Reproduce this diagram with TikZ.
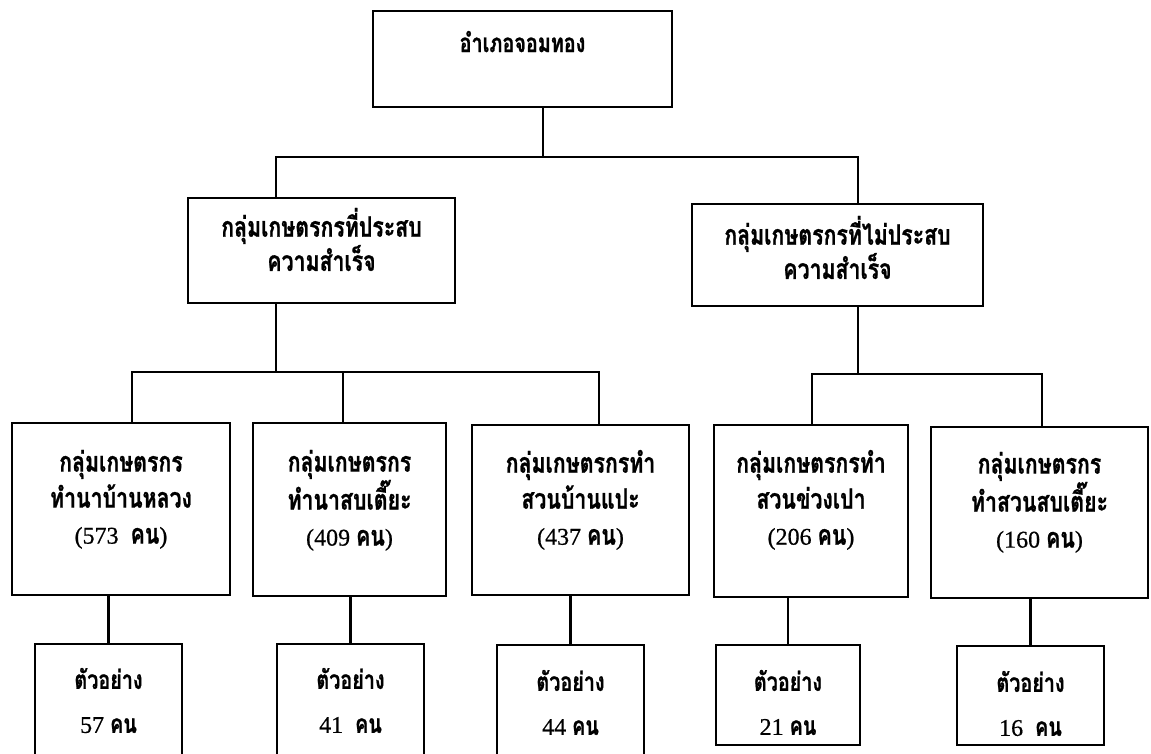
\documentclass[tikz,border=0pt]{standalone}
\usepackage{fontspec}
\usepackage{tikz}
\newfontfamily\thaifont[Script=Thai,FakeStretch=0.76,BoldFeatures={FakeBold=0.8}]{Loma}
\newfontfamily\numfont[FakeBold=0.6]{Liberation Serif}
\newcommand{\cnt}[1]{{\numfont\mdseries\fontsize{24}{33}\selectfont #1}}

\begin{document}
\begin{tikzpicture}[x=1pt,y=-1pt,
        box/.style={draw,line width=2.6pt,inner sep=0pt},
        txt/.style={anchor=north,align=center,inner sep=0pt,
            font=\thaifont\bfseries\fontsize{28}{36}\selectfont},
        mid/.style={txt,font=\thaifont\bfseries\fontsize{28}{31}\selectfont},
        smp/.style={txt,font=\thaifont\bfseries\fontsize{26}{44}\selectfont},
        link/.style={line width=2.6pt}]
        \clip (0,0) rectangle (1151,753);
        % top level
        \node[box,minimum width=299,minimum height=96,
            label={[txt,yshift=-21pt,font=\thaifont\bfseries\fontsize{26}{30}\selectfont]north:{อำเภอจอมทอง}}] (top) at (522.5,59) {};
        % middle level
        \node[box,minimum width=267,minimum height=105,
            label={[mid,yshift=-11pt]north:{กลุ่มเกษตรกรที่ประสบ\\ความสำเร็จ}}] (m1) at (321.5,250.5) {};
        \node[box,minimum width=291,minimum height=102,
            label={[mid,yshift=-13pt]north:{กลุ่มเกษตรกรที่ไม่ประสบ\\ความสำเร็จ}}] (m2) at (837.5,255) {};
        % groups
        \node[box,minimum width=218,minimum height=172,
            label={[txt,yshift=-28pt]north:{กลุ่มเกษตรกร\\ทำนาบ้านหลวง\\\cnt{(573~~}คน\cnt{)}}}] (b1) at (121,509) {};
        \node[box,minimum width=193,minimum height=173,
            label={[txt,yshift=-28pt]north:{กลุ่มเกษตรกร\\ทำนาสบเตี๊ยะ\\\cnt{(409 }คน\cnt{)}}}] (b2) at (349.5,509.5) {};
        \node[box,minimum width=217,minimum height=170,
            label={[txt,yshift=-26pt]north:{กลุ่มเกษตรกรทำ\\สวนบ้านแปะ\\\cnt{(437 }คน\cnt{)}}}] (b3) at (580.5,510) {};
        \node[box,minimum width=194,minimum height=172,
            label={[txt,yshift=-26pt]north:{กลุ่มเกษตรกรทำ\\สวนข่วงเปา\\\cnt{(206 }คน\cnt{)}}}] (b4) at (811,511) {};
        \node[box,minimum width=217,minimum height=171,
            label={[txt,yshift=-26pt]north:{กลุ่มเกษตรกร\\ทำสวนสบเตี๊ยะ\\\cnt{(160 }คน\cnt{)}}}] (b5) at (1039.5,512.5) {};
        % samples
        \node[box,minimum width=147,minimum height=126,
            label={[smp,yshift=-25pt]north:{ตัวอย่าง\\\cnt{57 }คน}}] (s1) at (108.5,707) {};
        \node[box,minimum width=147,minimum height=126,
            label={[smp,yshift=-25pt]north:{ตัวอย่าง\\\cnt{41~~}คน}}] (s2) at (350.5,707) {};
        \node[box,minimum width=147,minimum height=125,
            label={[smp,yshift=-26pt]north:{ตัวอย่าง\\\cnt{44 }คน}}] (s3) at (570.5,707.5) {};
        \node[box,minimum width=144,minimum height=100,
            label={[smp,yshift=-26pt]north:{ตัวอย่าง\\\cnt{21 }คน}}] (s4) at (788,695) {};
        \node[box,minimum width=147,minimum height=99,
            label={[smp,yshift=-26pt]north:{ตัวอย่าง\\\cnt{16~~}คน}}] (s5) at (1030.5,695.5) {};
        % junctions
        \coordinate (t0) at (543,157);
        \coordinate (t1) at (276,157);
        \coordinate (t2) at (858,157);
        \coordinate (l0) at (276,372);
        \coordinate (l1) at (132,372);
        \coordinate (l2) at (343,372);
        \coordinate (l3) at (599,372);
        \coordinate (r0) at (858,374);
        \coordinate (r1) at (812,374);
        \coordinate (r2) at (1042,374);
        % connectors
        \draw[link] (top.south -| t0) -- (t0);
        \draw[link] (m1.north -| t1) |- (t2) -- (m2.north -| t2);
        \draw[link] (m1.south -| l0) -- (l0);
        \draw[link] (b1.north -| l1) |- (l3) -- (b3.north -| l3);
        \draw[link] (l2) -- (b2.north -| l2);
        \draw[link] (m2.south -| r0) -- (r0);
        \draw[link] (b4.north -| r1) |- (r2) -- (b5.north -| r2);
        \draw[link] (s1.north |- b1.south) -- (s1.north);
        \draw[link] (s2.north |- b2.south) -- (s2.north);
        \draw[link] (s3.north |- b3.south) -- (s3.north);
        \draw[link] (s4.north |- b4.south) -- (s4.north);
        \draw[link] (s5.north |- b5.south) -- (s5.north);
    \end{tikzpicture}
\end{document}
